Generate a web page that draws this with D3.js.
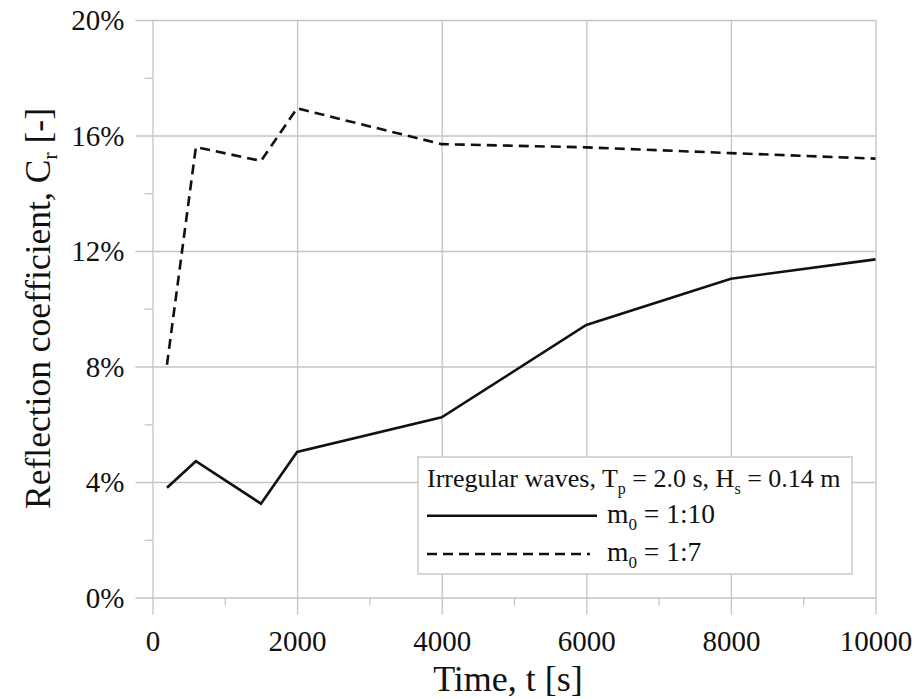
<!DOCTYPE html>
<html>
<head>
<meta charset="utf-8">
<script src="https://cdn.jsdelivr.net/npm/d3@7"></script>
<style>
  body { margin: 0; background: #fff; }
  svg text { font-family: "Liberation Serif", "Times New Roman", serif; fill: #111; }
</style>
</head>
<body>
<div id="chart"></div>
<script>
// data
const timeSteps = [200, 600, 1500, 2000, 4000, 6000, 8000, 10000]
const slope10 = [0.038, 0.0472, 0.0325, 0.0504, 0.0624, 0.0944, 0.1104, 0.1171]
const slope7 = [0.0806, 0.156, 0.1512, 0.1694, 0.157, 0.1559, 0.1539, 0.152]
const xTicks = [0, 2000, 4000, 6000, 8000, 10000]
const xMinor = [1000, 3000, 5000, 7000, 9000]
const yTicks = [0, 0.04, 0.08, 0.12, 0.16, 0.20]
const yMinor = [0.02, 0.06, 0.10, 0.14, 0.18]

const width = 920
const height = 699
const margin = { left: 152.5, right: 875.5, top: 20, bottom: 597.5 }
const plotW = margin.right - margin.left
const plotH = margin.bottom - margin.top
const grid = "#c4c4c4"
const serif = "'Liberation Serif', 'Times New Roman', serif"

const svg = d3.select("#chart").append("svg")
  .attr("width", width)
  .attr("height", height)

const x = d3.scaleLinear().domain([0, 10000]).range([0, plotW])
const y = d3.scaleLinear().domain([0, 0.2]).range([plotH, 0])

const g = svg.append("g").attr("transform", "translate(" + margin.left + "," + margin.top + ")")

// y grid + labels
const yAxis = g.append("g")
  .call(d3.axisLeft(y).tickValues(yTicks).tickFormat(d3.format(".0%"))
    .tickSizeInner(-plotW).tickSizeOuter(0).tickPadding(28))
  .attr("font-family", serif)
  .attr("font-size", 29)
yAxis.select(".domain").remove()
yAxis.selectAll("line").attr("x1", -17).attr("stroke", grid).attr("stroke-width", 1.3)
yAxis.selectAll("text").attr("dy", "0.34em").attr("fill", "#111")

// x grid + labels
const xAxis = g.append("g")
  .attr("transform", "translate(0," + plotH + ")")
  .call(d3.axisBottom(x).tickValues(xTicks).tickFormat(d3.format("d"))
    .tickSizeInner(-plotH).tickSizeOuter(0).tickPadding(33))
  .attr("font-family", serif)
  .attr("font-size", 29)
xAxis.select(".domain").remove()
xAxis.selectAll("line").attr("y1", 17).attr("stroke", grid).attr("stroke-width", 1.3)
xAxis.selectAll("text").attr("fill", "#111")

// minor ticks
const yMinorAxis = g.append("g")
  .call(d3.axisLeft(y).tickValues(yMinor).tickSize(8).tickFormat(""))
yMinorAxis.select(".domain").remove()
yMinorAxis.selectAll("line").attr("stroke", grid).attr("stroke-width", 1.3)

const xMinorAxis = g.append("g")
  .attr("transform", "translate(0," + plotH + ")")
  .call(d3.axisBottom(x).tickValues(xMinor).tickSize(8).tickFormat(""))
xMinorAxis.select(".domain").remove()
xMinorAxis.selectAll("line").attr("stroke", grid).attr("stroke-width", 1.3)

// lines
const line = d3.line()
  .x((d, i) => x(timeSteps[i]))
  .y(d => y(d))

g.append("path")
  .datum(slope10)
  .attr("d", line)
  .attr("fill", "none")
  .attr("stroke", "#111")
  .attr("stroke-width", 2.6)

g.append("path")
  .datum(slope7)
  .attr("d", line)
  .attr("fill", "none")
  .attr("stroke", "#111")
  .attr("stroke-width", 2.6)
  .attr("stroke-dasharray", "10,6")

// axis titles
svg.append("text")
  .attr("x", 508)
  .attr("y", 691)
  .attr("text-anchor", "middle")
  .style("font-size", "36px")
  .text("Time, t [s]")

const yTitle = svg.append("text")
  .attr("transform", "translate(50,308.5) rotate(-90)")
  .attr("text-anchor", "middle")
  .style("font-size", "35.5px")
yTitle.append("tspan").text("Reflection coefficient, C")
yTitle.append("tspan").text("r").style("font-size", "22px").attr("dy", 7)
yTitle.append("tspan").text(" [-]").attr("dy", -7)

// legend
const lg = svg.append("g").attr("transform", "translate(418,457)")
lg.append("rect")
  .attr("width", 434).attr("height", 117)
  .attr("fill", "#fff").attr("stroke", grid).attr("stroke-width", 1.3)

const head = lg.append("text").attr("x", 9).attr("y", 30).style("font-size", "26px")
head.append("tspan").text("Irregular waves, T")
head.append("tspan").text("p").style("font-size", "16px").attr("dy", 7)
head.append("tspan").text(" = 2.0 s, H").attr("dy", -7)
head.append("tspan").text("s").style("font-size", "16px").attr("dy", 7)
head.append("tspan").text(" = 0.14 m").attr("dy", -7)

const rows = [
  { label: "1:10", dash: null, ly: 58.7, ty: 66, x2: 179 },
  { label: "1:7", dash: "10,6", ly: 97, ty: 104, x2: 172 }
]
rows.forEach(r => {
  lg.append("line")
    .attr("x1", 9).attr("x2", r.x2)
    .attr("y1", r.ly).attr("y2", r.ly)
    .attr("stroke", "#111").attr("stroke-width", 2.6)
    .attr("stroke-dasharray", r.dash)
  const t = lg.append("text").attr("x", 189).attr("y", r.ty).style("font-size", "27.5px")
  t.append("tspan").text("m")
  t.append("tspan").text("0").style("font-size", "17px").attr("dy", 7)
  t.append("tspan").text(" = " + r.label).attr("dy", -7)
})
</script>
</body>
</html>
